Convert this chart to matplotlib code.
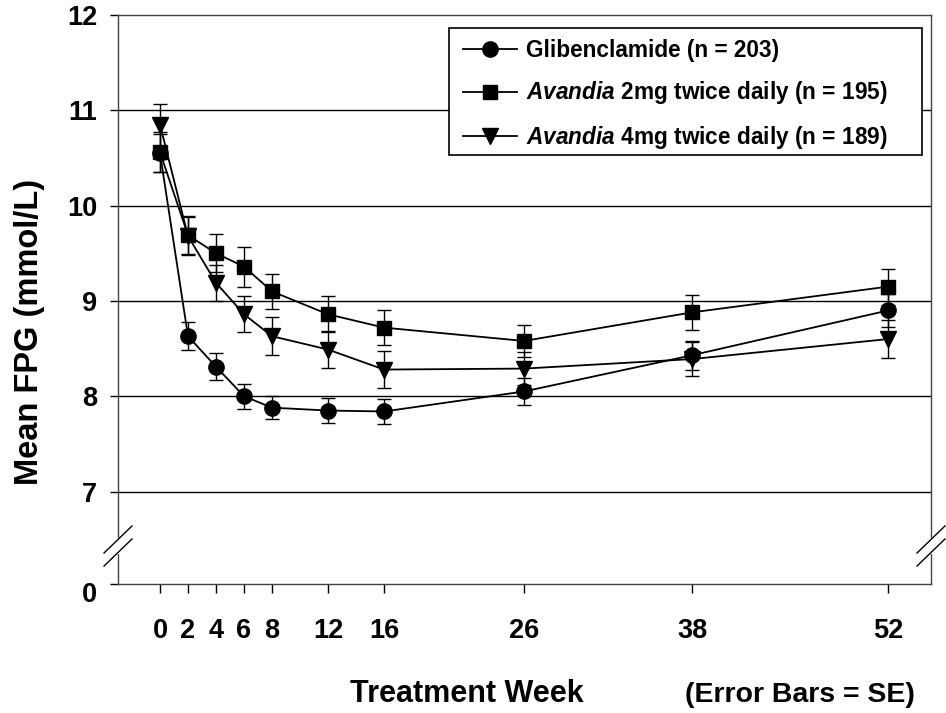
import numpy as np
import matplotlib.pyplot as plt
import matplotlib.transforms as mtransforms
from matplotlib.patches import Rectangle

plt.rcParams['font.family'] = 'Liberation Sans'
plt.rcParams['font.weight'] = 'bold'
plt.rcParams['mathtext.fontset'] = 'custom'
plt.rcParams['mathtext.it'] = 'Liberation Sans:italic:bold'
plt.rcParams['mathtext.rm'] = 'Liberation Sans:bold'

weeks = [0, 2, 4, 6, 8, 12, 16, 26, 38, 52]
glib = [10.55, 8.63, 8.31, 8.00, 7.88, 7.85, 7.84, 8.05, 8.43, 8.90]
glib_se = [0.20, 0.15, 0.14, 0.13, 0.12, 0.13, 0.13, 0.14, 0.15, 0.17]
av2 = [10.56, 9.69, 9.50, 9.36, 9.10, 8.86, 8.72, 8.58, 8.88, 9.15]
av2_se = [0.21, 0.20, 0.20, 0.21, 0.18, 0.19, 0.18, 0.17, 0.18, 0.19]
av4 = [10.85, 9.68, 9.19, 8.86, 8.63, 8.49, 8.28, 8.29, 8.39, 8.60]
av4_se = [0.22, 0.20, 0.19, 0.19, 0.20, 0.19, 0.19, 0.17, 0.18, 0.20]

labels = ['Glibenclamide (n = 203)',
          r'$\mathit{Avandia}$ 2mg twice daily (n = 195)',
          r'$\mathit{Avandia}$ 4mg twice daily (n = 189)']

# the broken axis: bottom of the plot stands for 0
y_bottom = 6.03
yticks = [y_bottom, 7, 8, 9, 10, 11, 12]
ytick_labels = ['0', '7', '8', '9', '10', '11', '12']

W, H = 946, 713
ax_l, ax_r, ax_t, ax_b = 118, 931, 15, 584
fig = plt.figure(figsize=(W/100, H/100), dpi=100)
ax = fig.add_axes([ax_l/W, 1 - ax_b/H, (ax_r - ax_l)/W, (ax_b - ax_t)/H])

def px2ax(x, y):
    return (x - ax_l)/(ax_r - ax_l), (ax_b - y)/(ax_b - ax_t)

for yv in [7, 8, 9, 10, 11]:
    ax.axhline(yv, color='black', lw=1.0, zorder=1)

series = [(glib, glib_se, 'o', 11), (av2, av2_se, 's', 9.5), (av4, av4_se, 'v', 11)]
handles = []
for (vals, se, mk, ms), lab in zip(series, labels):
    c = ax.errorbar(weeks, vals, yerr=se, color='black', lw=1.3, marker=mk,
                    markersize=ms, capsize=5, elinewidth=1.0, capthick=1.0,
                    label=lab, zorder=3)
    handles.append(c.lines[0])

ax.set_xlim(-3, 55.07)
ax.set_ylim(y_bottom, 12)
ax.set_xticks(weeks)
ax.set_xticklabels([str(w) for w in weeks])
ax.set_yticks(yticks)
ax.set_yticklabels(ytick_labels)
ax.tick_params(axis='x', direction='out', length=6.5, width=1, pad=18, labelsize=19.5)
ax.tick_params(axis='y', direction='out', length=6, width=1, pad=9, labelsize=19.5)

# push the "0" label down a little, as in the original
lbl0 = ax.get_yticklabels()[0]
lbl0.set_transform(lbl0.get_transform() +
                   mtransforms.ScaledTranslation(0, -8/100, fig.dpi_scale_trans))

for s in ax.spines.values():
    s.set_color('#444444')
    s.set_linewidth(1.0)

# break marks on both sides
for xa in [0, 1]:
    ax.plot([xa, xa], [0.056, 0.077], color='white', lw=3, transform=ax.transAxes,
            clip_on=False, zorder=5)
    for y0 in [0.0545, 0.0316]:
        ax.plot([xa - 0.0172, xa + 0.0172], [y0, y0 + 0.0475], color='black', lw=1.0,
                transform=ax.transAxes, clip_on=False, zorder=6)

# legend without its own frame, the box is drawn separately
leg = ax.legend(handles, labels, loc='upper left', bbox_to_anchor=px2ax(449, 25),
                borderaxespad=0, fontsize=16.3, frameon=False,
                handlelength=2.4, handletextpad=0.4, labelspacing=0.77,
                borderpad=0.62)
x0, y0 = px2ax(449, 155)
x1, y1 = px2ax(922, 28)
ax.add_patch(Rectangle((x0, y0), x1 - x0, y1 - y0, transform=ax.transAxes,
                       facecolor='white', edgecolor='black', lw=1.2, zorder=4))
leg.set_zorder(7)

fig.text(30/W, 1 - 332/H, 'Mean FPG (mmol/L)', rotation=90, ha='center',
         va='center', fontsize=23.5, fontweight='bold')
fig.text(467/W, 1 - 702/H, 'Treatment Week', ha='center', va='baseline',
         fontsize=22, fontweight='bold')
fig.text(685/W, 1 - 702/H, '(Error Bars = SE)', ha='left', va='baseline',
         fontsize=20.5, fontweight='bold')

fig.savefig('out.png', dpi=100)
